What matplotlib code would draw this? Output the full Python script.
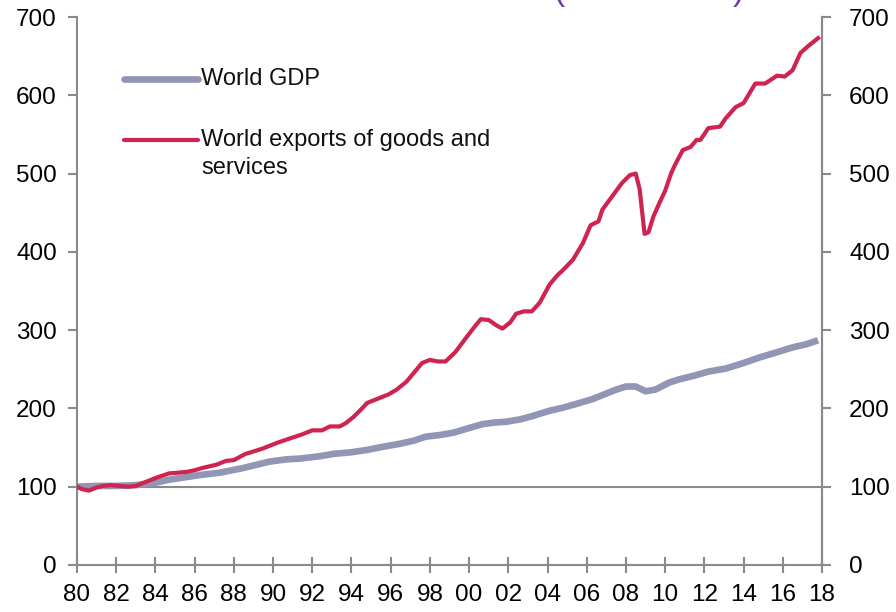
import matplotlib
matplotlib.use("Agg")
import matplotlib.pyplot as plt
from matplotlib.lines import Line2D

plt.rcParams['font.family'] = ['Liberation Sans', 'DejaVu Sans']

# World exports of goods and services, index (1980 = 100)
exports_t = [1980.0, 1980.25, 1980.6, 1981.0, 1981.3, 1981.7, 1982.2, 1982.6, 1983.0, 1983.5,
             1984.1, 1984.7, 1985.2, 1985.6, 1986.0, 1986.4, 1987.1, 1987.6, 1988.0, 1988.6,
             1989.0, 1989.5, 1990.2, 1990.9, 1991.5, 1992.0, 1992.5, 1992.9, 1993.4, 1993.7,
             1994.1, 1994.5, 1994.8, 1995.4, 1995.9, 1996.3, 1996.8, 1997.2, 1997.6, 1998.0,
             1998.4, 1998.8, 1999.3, 1999.9, 2000.3, 2000.6, 2001.0, 2001.4, 2001.7, 2002.1,
             2002.4, 2002.8, 2003.2, 2003.6, 2004.1, 2004.5, 2004.8, 2005.3, 2005.8, 2006.2,
             2006.6, 2006.8, 2007.3, 2007.8, 2008.2, 2008.5, 2008.7, 2008.95, 2009.15, 2009.4,
             2009.7, 2010.0, 2010.3, 2010.5, 2010.9, 2011.3, 2011.6, 2011.8, 2012.2, 2012.8,
             2013.1, 2013.6, 2014.0, 2014.6, 2015.1, 2015.7, 2016.1, 2016.5, 2016.9, 2017.3,
             2017.8]
exports_v = [100, 97, 95, 99, 101, 102, 101, 100, 101, 106,
             112, 117, 118, 119, 121, 124, 128, 133, 134, 142,
             145, 149, 156, 162, 167, 172, 172, 177, 177, 181,
             189, 199, 207, 213, 218, 224, 234, 246, 258, 262,
             260, 260, 272, 292, 305, 314, 313, 306, 302, 310,
             321, 324, 324, 335, 358, 370, 377, 390, 411, 434,
             439, 454, 471, 488, 498, 500, 480, 423, 425, 445,
             462, 478, 500, 511, 530, 534, 543, 543, 558, 560,
             571, 585, 590, 615, 615, 625, 624, 632, 654, 663,
             673]

# World GDP, index (1980 = 100)
gdp_t = [1980.0, 1981.0, 1982.0, 1983.0, 1984.0, 1984.7, 1985.5, 1986.3, 1987.3, 1988.5,
         1989.8, 1990.7, 1991.4, 1992.4, 1993.1, 1994.0, 1994.8, 1995.6, 1996.5, 1997.2,
         1997.8, 1998.5, 1999.2, 2000.0, 2000.7, 2001.3, 2001.9, 2002.6, 2003.2, 2004.1,
         2004.8, 2005.5, 2006.3, 2007.0, 2007.5, 2008.0, 2008.5, 2009.0, 2009.5, 2010.2,
         2010.7, 2011.5, 2012.2, 2013.1, 2014.0, 2014.8, 2015.6, 2016.5, 2017.2, 2017.8]
gdp_v = [100, 101, 101, 102, 105, 109, 112, 115, 118, 124,
         132, 135, 136, 139, 142, 144, 147, 151, 155, 159,
         164, 166, 169, 175, 180, 182, 183, 186, 190, 197,
         201, 206, 212, 219, 224, 228, 228, 222, 224, 233,
         237, 242, 247, 251, 258, 265, 271, 278, 282, 287]

year_ticks = list(range(1980, 2019, 2))
year_labels = [f"{y % 100:02d}" for y in year_ticks]
value_ticks = [0, 100, 200, 300, 400, 500, 600, 700]

GDP_COLOR = "#9196B4"
EXP_COLOR = "#CF2350"
AXIS_GRAY = "#8A8A8A"
GDP_LW = 4.8
EXP_LW = 3.0

fig = plt.figure(figsize=(8.96, 6.12), dpi=100)
ax = fig.add_axes([0.0859, 0.0768, 0.8315, 0.8954])

ax.axhline(100, color=AXIS_GRAY, lw=1.5, zorder=1)
ax.plot(gdp_t, gdp_v, color=GDP_COLOR, lw=GDP_LW, solid_capstyle='butt', zorder=2)
ax.plot(exports_t, exports_v, color=EXP_COLOR, lw=EXP_LW, solid_joinstyle='round', zorder=3)

ax.set_xlim(1980, 2018)
ax.set_ylim(0, 700)
ax.set_xticks(year_ticks)
ax.set_xticklabels(year_labels)
ax.set_yticks(value_ticks)

for side in ['left', 'right', 'bottom']:
    ax.spines[side].set_color(AXIS_GRAY)
    ax.spines[side].set_linewidth(1.5)
ax.spines['top'].set_visible(False)

ax.tick_params(axis='x', direction='inout', length=11, width=1.5, color=AXIS_GRAY,
               labelsize=17.5, pad=8)
ax.tick_params(axis='y', direction='out', length=6.5, width=1.5, color=AXIS_GRAY,
               labelsize=17.5, pad=8, right=False)

# Right-hand value axis, same scale, labels set a little further out
axr = ax.twinx()
axr.set_ylim(ax.get_ylim())
axr.set_yticks(value_ticks)
for side in ['left', 'top', 'bottom']:
    axr.spines[side].set_visible(False)
axr.spines['right'].set_color(AXIS_GRAY)
axr.spines['right'].set_linewidth(1.5)
axr.tick_params(axis='y', direction='out', length=6.5, width=1.5, color=AXIS_GRAY,
                labelsize=17.5, pad=13)

# Legend keys beside the lines
ax.add_line(Line2D([0.063, 0.162], [0.887, 0.887], transform=ax.transAxes,
                   color=GDP_COLOR, lw=GDP_LW, solid_capstyle='round'))
ax.text(0.1665, 0.887, "World GDP", transform=ax.transAxes, fontsize=17,
        va='center', ha='left', color='#111111')
ax.add_line(Line2D([0.063, 0.162], [0.7755, 0.7755], transform=ax.transAxes,
                   color=EXP_COLOR, lw=EXP_LW, solid_capstyle='round'))
ax.text(0.1665, 0.7755, "World exports of goods and", transform=ax.transAxes,
        fontsize=17, va='center', ha='left', color='#111111')
ax.text(0.1665, 0.7245, "services", transform=ax.transAxes,
        fontsize=17, va='center', ha='left', color='#111111')

# Heading running off the top edge
fig.text(0.725, 1.0, "(1980 = 100)", fontsize=24, color="#6A3AA0",
         ha='center', va='baseline')

fig.savefig("out.png", dpi=100)
